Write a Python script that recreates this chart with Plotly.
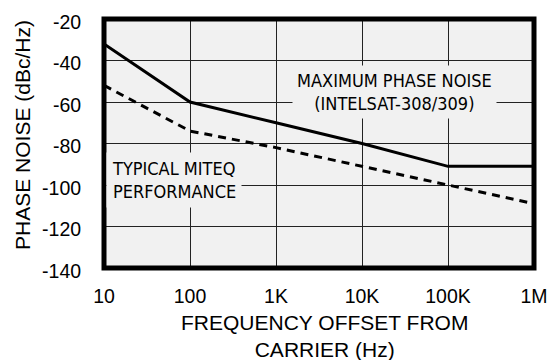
import plotly.graph_objects as go

# ---- data ----
freq_hz = [10, 100, 1000, 10000, 100000, 1000000]
max_phase_noise = [-32, -60, -70, -80, -91, -91]          # INTELSAT-308/309 spec (solid)
typical_miteq = [-52, -74, -82, -91, -100, -109]           # typical performance (dashed)
x_tick_vals = [10, 100, 1000, 10000, 100000, 1000000]
x_tick_text = ["10", "100", "1K", "10K", "100K", "1M"]
y_tick_vals = [-20, -40, -60, -80, -100, -120, -140]
y_tick_text = ["-20", "-40", "-60", "-80", "-100", "-120", "-140"]

BG = "#f1f1f1"
TICK_FONT = dict(family="Liberation Sans, Arial, sans-serif", size=19.5, color="#000")
NARROW = dict(family="DejaVu Sans Condensed, Liberation Sans Narrow, Arial Narrow, sans-serif",
              size=18, color="#000")

fig = go.Figure()
fig.add_trace(go.Scatter(x=freq_hz, y=max_phase_noise, mode="lines",
                         line=dict(color="#000", width=3), showlegend=False))
fig.add_trace(go.Scatter(x=freq_hz, y=typical_miteq, mode="lines",
                         line=dict(color="#000", width=3, dash="8px,6px"), showlegend=False))

fig.update_layout(
    width=548, height=360, autosize=False,
    margin=dict(l=104, r=14, t=19, b=92),
    paper_bgcolor="white", plot_bgcolor=BG,
    xaxis=dict(type="log", range=[0.99999, 6.00001], tickvals=x_tick_vals, ticktext=x_tick_text,
               showgrid=True, gridcolor="#222", gridwidth=1, zeroline=False,
               ticks="outside", ticklen=11, tickcolor="rgba(0,0,0,0)",
               automargin=False, ticklabeloverflow="allow",
               tickfont=TICK_FONT, showline=False),
    yaxis=dict(range=[-140, -20], tickvals=y_tick_vals, ticktext=y_tick_text,
               showgrid=True, gridcolor="#222", gridwidth=1, zeroline=False,
               ticks="outside", ticklen=18, tickcolor="rgba(0,0,0,0)",
               ticklabelshift=3, automargin=False,
               tickfont=TICK_FONT, showline=False),
    shapes=[dict(type="rect", xref="paper", yref="paper", x0=0, y0=0, x1=1, y1=1,
                 line=dict(color="#000", width=5), layer="above")],
    annotations=[
        dict(text="MAXIMUM PHASE NOISE<br>(INTELSAT-308/309)", xref="paper", yref="paper",
             x=0.675, y=0.705, xanchor="center", yanchor="middle", showarrow=False,
             font=NARROW, bgcolor=BG, borderpad=4, align="center"),
        dict(text="TYPICAL MITEQ<br>PERFORMANCE", xref="paper", yref="paper",
             x=0.1636, y=0.355, xanchor="center", yanchor="middle", showarrow=False,
             font=NARROW, bgcolor=BG, borderpad=5, align="left"),
        dict(text="FREQUENCY OFFSET FROM<br>CARRIER (Hz)", xref="paper", yref="paper",
             x=0.513, y=-0.272, xanchor="center", yanchor="middle", showarrow=False,
             borderpad=0,
             font=dict(family="Liberation Sans, Arial, sans-serif", size=21, color="#000")),
        dict(text="PHASE NOISE (dBc/Hz)", xref="paper", yref="paper",
             x=-0.191, y=0.534, xanchor="center", yanchor="middle", showarrow=False,
             textangle=-90,
             font=dict(family="Liberation Sans, Arial, sans-serif", size=21, color="#000")),
    ],
)

fig.write_html("out.html", config={"displayModeBar": False, "responsive": False},
               post_script="document.body.style.margin='0';")
